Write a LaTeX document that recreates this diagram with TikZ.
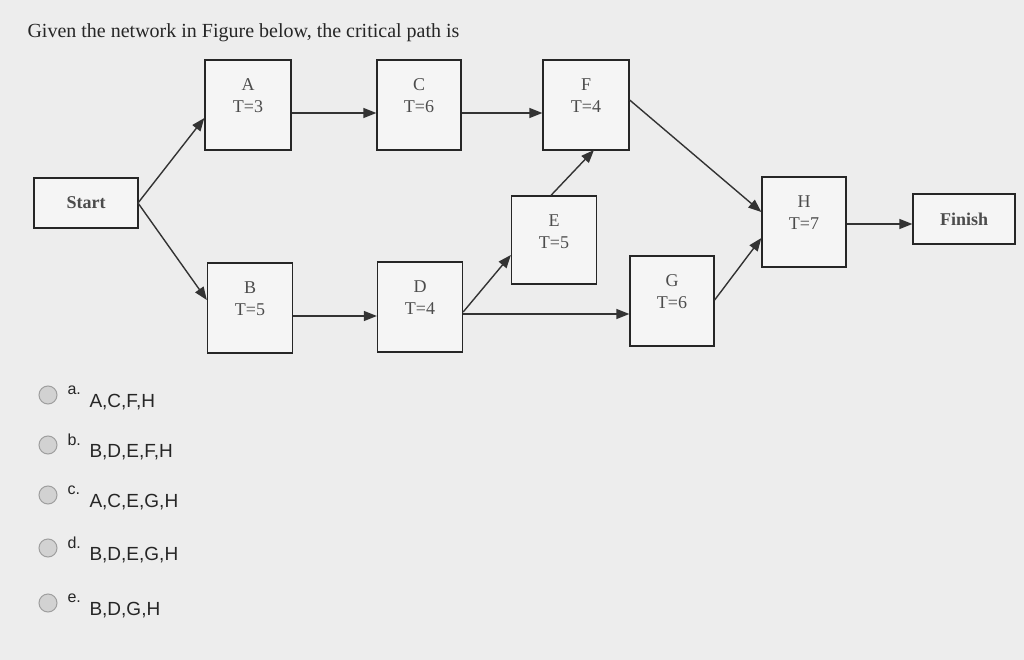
\documentclass[tikz,border=0pt]{standalone}
\usepackage{fontspec}
\setmainfont{Liberation Serif}
\newfontfamily\arialf{Liberation Sans}
\usetikzlibrary{arrows.meta}
\begin{document}
\begin{tikzpicture}[x=1pt,y=-1pt,
  box/.style={draw=black!85,line width=1.3pt,fill=white!92!gray,inner sep=0pt,font=\fontsize{18}{22}\selectfont,text=black!70,align=center},
  con/.style={draw=black!80,line width=1.4pt,-{Triangle[length=13pt,width=10pt]}},
  opt/.style={anchor=west,font=\arialf\fontsize{19}{21}\selectfont,text=black!85},
  rad/.style={circle,draw=gray!75,line width=1pt,fill=gray!35,minimum size=18pt,inner sep=0pt}]
\fill[gray!14] (0,0) rectangle (1024,660);
\useasboundingbox (0,0) rectangle (1024,660);
\node[anchor=west,font=\fontsize{20}{22}\selectfont,text=black!85] (title) at (24,33) {Given the network in Figure below, the critical path is};
\node[box,minimum width=104pt,minimum height=50pt] (S) at (86,203) {\textbf{Start}};
\node[box,minimum width=86pt,minimum height=90pt] (A) at (248,105) {A\\T=3\\[-4pt]};
\node[box,minimum width=84pt,minimum height=90pt] (C) at (419,105) {C\\T=6\\[-4pt]};
\node[box,minimum width=86pt,minimum height=90pt] (F) at (586,105) {F\\T=4\\[-4pt]};
\node[box,minimum width=85pt,minimum height=88pt] (E) at (554,240) {E\\T=5\\[-6pt]};
\node[box,minimum width=84pt,minimum height=90pt] (H) at (804,222) {H\\T=7\\[-4pt]};
\node[box,minimum width=102pt,minimum height=50pt] (Fi) at (964,219) {\textbf{Finish}};
\node[box,minimum width=85pt,minimum height=90pt] (B) at (250,308) {B\\T=5\\[-4pt]};
\node[box,minimum width=85pt,minimum height=90pt] (D) at (420,307) {D\\T=4\\[-4pt]};
\node[box,minimum width=84pt,minimum height=90pt] (G) at (672,301) {G\\T=6\\[-4pt]};
\coordinate (s0) at (138,203);
\draw[con] (s0) -- (A.west |- 0,118);
\draw[con] (s0) -- (B.west |- 0,300);
\draw[con] (A.east |- 0,113) -- (C.west |- 0,113);
\draw[con] (C.east |- 0,113) -- (F.west |- 0,113);
\draw[con] (F.east |- 0,100) -- (H.west |- 0,212);
\draw[con] (E.north) ++(-3,0) coordinate (e0) (e0) -- (594,150);
\draw[con] (B.east |- 0,316) -- (D.west |- 0,316);
\draw[con] (D.east |- 0,312) -- (E.west |- 0,255);
\draw[con] (D.east |- 0,314) -- (G.west |- 0,314);
\draw[con] (G.east |- 0,300) -- (H.west |- 0,238);
\draw[con] (H.east |- 0,224) -- (Fi.west |- 0,224);
\foreach \y/\l/\t [count=\i] in {395/a./{A,C,F,H},445/b./{B,D,E,F,H},495/c./{A,C,E,G,H},548/d./{B,D,E,G,H},603/e./{B,D,G,H}}{
  \node[rad] (r\i) at (48,\y) {};
  \node[opt,font=\arialf\fontsize{16}{17}\selectfont] (l\i) at (64,\y-5) {\l};
  \node[opt] (o\i) at (86,\y+7) {\t};
}
\end{tikzpicture}
\end{document}
